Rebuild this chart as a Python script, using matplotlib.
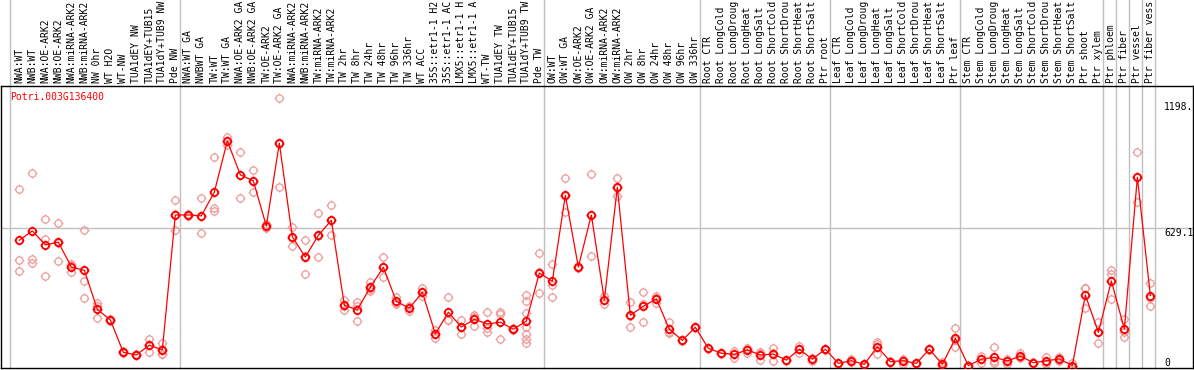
import numpy as np
import matplotlib
matplotlib.use("Agg")
from matplotlib import pyplot as plt
from matplotlib.path import Path
from matplotlib import transforms

gene = "Potri.003G136400"

labels = [
    "NWA:WT", "NWB:WT", "NWA:OE-ARK2", "NWB:OE-ARK2", "NWA:miRNA-ARK2", "NWB:miRNA-ARK2",
    "NW 0hr", "WT H2O", "WT-NW", "TUA1dEY NW", "TUA1dEY+TUB15", "TUA1dY+TUB9 NW", "Pde NW",
    "NWA:WT GA", "NWBWT GA", "TW:WT", "TW:WT GA", "NWA:OE-ARK2 GA", "NWB:OE-ARK2 GA",
    "TW:OE-ARK2", "TW:OE-ARK2 GA", "NWA:miRNA-ARK2", "NWB:miRNA-ARK2", "TW:miRNA-ARK2",
    "TW:miRNA-ARK2", "TW 2hr", "TW 8hr", "TW 24hr", "TW 48hr", "TW 96hr", "TW 336hr", "WT ACC",
    "35S::etr1-1 H2", "35S::etr1-1 AC", "LMX5::etr1-1 H", "LMX5::etr1-1 A", "WT-TW",
    "TUA1dEY TW", "TUA1dEY+TUB15", "TUA1dY+TUB9 TW", "Pde TW",
    "OW:WT", "OW:WT GA", "OW:OE-ARK2", "OW:OE-ARK2 GA", "OW:miRNA-ARK2", "OW:miRNA-ARK2",
    "OW 2hr", "OW 8hr", "OW 24hr", "OW 48hr", "OW 96hr", "OW 336hr",
    "Root CTR", "Root LongCold", "Root LongDroug", "Root LongHeat", "Root LongSalt",
    "Root ShortCold", "Root ShortDrou", "Root ShortHeat", "Root ShortSalt", "Ptr root",
    "Leaf CTR", "Leaf LongCold", "Leaf LongDroug", "Leaf LongHeat", "Leaf LongSalt",
    "Leaf ShortCold", "Leaf ShortDrou", "Leaf ShortHeat", "Leaf ShortSalt", "Ptr leaf",
    "Stem CTR", "Stem LongCold", "Stem LongDroug", "Stem LongHeat", "Stem LongSalt",
    "Stem ShortCold", "Stem ShortDrou", "Stem ShortHeat", "Stem ShortSalt", "Ptr shoot",
    "Ptr xylem", "Ptr phloem", "Ptr fiber", "Ptr vessel", "Ptr fiber vess",
]

# number of samples in each block (grey separators)
group_sizes = [13, 28, 12, 10, 10, 11, 1, 1, 1, 1]

means = [
    575, 617, 554, 566, 454, 439, 263, 215, 69, 57, 101, 80, 689,
    689, 685, 792, 1023, 870, 843, 639, 1013, 590, 499, 597, 665, 281, 261, 363, 453,
    299, 268, 340, 152, 250, 183, 218, 197, 205, 173, 210, 427,
    390, 778, 454, 689, 305, 814, 236, 277, 310, 173, 123, 182,
    87, 65, 60, 80, 57, 61, 34, 83, 38, 83,
    19, 31, 15, 94, 27, 31, 19, 83, 15, 132,
    9, 38, 47, 30, 52, 22, 31, 39, 9, 328,
    159, 391, 174, 859, 325,
]

replicates = [
    [805, 485, 436], [877, 490, 474], [671, 579, 414], [652, 564, 481], [466, 463, 433],
    [620, 390, 313], [290, 280, 224], [220, 215, 210], [74, 69, 65], [60, 57, 55],
    [129, 100, 70], [110, 85, 62, 60], [755, 692, 620],
    [692, 689, 686], [766, 682, 606], [950, 722, 706], [1042, 1023, 1003], [973, 870, 766],
    [892, 844, 792], [648, 640, 630], [1216, 1007, 815], [636, 584, 549], [575, 502, 421],
    [697, 596, 499], [733, 665, 597], [305, 278, 260], [298, 278, 209], [385, 355, 347],
    [498, 453, 408], [320, 291, 287], [280, 269, 254], [358, 340, 322], [170, 153, 132],
    [317, 217, 215], [215, 185, 150], [237, 230, 188], [250, 177, 159], [252, 241, 129],
    [180, 172, 168], [328, 302, 245, 185, 152, 129, 110], [516, 430, 336],
    [468, 373, 320], [855, 775, 704], [460, 454, 448], [873, 690, 504], [323, 307, 286],
    [855, 811, 776], [295, 231, 182], [340, 286, 205], [325, 315, 290], [205, 159, 155],
    [126, 123, 120], [185, 182, 179],
    [90, 87, 84], [67, 65, 62], [76, 62, 42], [90, 84, 65], [72, 65, 34],
    [90, 64, 30], [36, 34, 32], [99, 84, 65], [45, 37, 30], [85, 83, 80],
    [22, 19, 17], [41, 30, 24], [17, 15, 13], [117, 105, 61], [29, 27, 25],
    [41, 35, 17], [22, 19, 17], [85, 83, 80], [27, 10, 8], [177, 125, 94],
    [10, 8, 8], [52, 38, 22], [92, 28, 19], [41, 31, 17], [65, 47, 45],
    [24, 22, 20], [49, 27, 17], [49, 38, 30], [19, 5, 2], [358, 358, 268],
    [207, 162, 110], [441, 421, 308], [219, 159, 137], [972, 859, 746], [381, 315, 278],
]

y_ticks = [0, 629.1, 1198]
y_tick_labels = ["0", "629.1", "1198."]

mono = "DejaVu Sans Mono"

# circle marker with four little ticks
verts = [(0, 1), (0, 1.35), (0, -1), (0, -1.35), (1, 0), (1.35, 0), (-1, 0), (-1.35, 0)]
codes = [Path.MOVETO, Path.LINETO] * 4
mk = Path.make_compound_path(Path.unit_circle(), Path(verts, codes))

fig = plt.figure(figsize=(11.94, 3.70), dpi=100)
ax = fig.add_axes([1 / 1194, 2 / 370, 1192 / 1194, 282 / 370])

xs = np.arange(len(labels))
ax.set_xlim(-1.41, 90.28)
ax.set_ylim(-1.8, 1271)

# grey separators between sample blocks, running up through the label area
bounds = list(np.cumsum(group_sizes) - 1 + 0.38)
for b in [-0.7] + bounds:
    ax.axvline(b, ymin=0, ymax=1.31, color="#c0c0c0", lw=1.0, clip_on=False, zorder=0)
ax.axhline(y_ticks[1], color="#c0c0c0", lw=1.0, zorder=0)

# replicate points
for i, reps in enumerate(replicates):
    ax.plot([xs[i]] * len(reps), reps, linestyle="none", marker=mk, markersize=7,
            markerfacecolor="none", markeredgecolor="#ee9a9a", markeredgewidth=0.9, zorder=2)

ax.plot(xs, means, color="red", lw=0.9, zorder=3)
ax.plot(xs, means, linestyle="none", marker=mk, markersize=7, markerfacecolor="none",
        markeredgecolor="red", markeredgewidth=1.3, zorder=4)

# sample names on top
trans = transforms.blended_transform_factory(ax.transData, ax.transAxes)
for i, lab in enumerate(labels):
    ax.text(xs[i], 1.0 + 3 / 282, lab, rotation=90, ha="center", va="bottom",
            family=mono, fontsize=7, transform=trans, clip_on=False)

# value labels on the right
trans_r = transforms.blended_transform_factory(ax.transAxes, ax.transData)
for v, t in zip(y_ticks, y_tick_labels):
    ax.text(1163 / 1192, v, t, ha="left", va="bottom" if v == 0 else "top",
            family=mono, fontsize=7, transform=trans_r)

fig.text(10 / 1194, 1 - 92 / 370, gene, color="red", family=mono, fontsize=7, va="top", ha="left")

ax.set_xticks([])
ax.set_yticks([])
for s in ax.spines.values():
    s.set_color("black")
    s.set_linewidth(1.0)

fig.savefig("out.png", dpi=100)
